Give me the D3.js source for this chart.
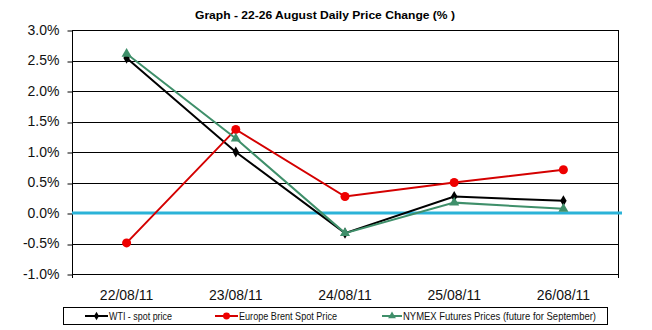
<!DOCTYPE html>
<html>
<head>
<meta charset="utf-8">
<script src="https://cdn.jsdelivr.net/npm/d3@7/dist/d3.min.js"></script>
<style>
  html, body { margin: 0; padding: 0; background: #fff; }
  svg { display: block; font-family: Arial, "Liberation Sans", sans-serif; }
</style>
</head>
<body>
<svg id="chart" width="652" height="330"></svg>
<script>
// Daily price change, 22-26 August 2011 (percent)
const dates = ["22/08/11", "23/08/11", "24/08/11", "25/08/11", "26/08/11"];
const wti = [2.54, 1.00, -0.33, 0.27, 0.20];
const brent = [-0.49, 1.37, 0.27, 0.50, 0.71];
const nymex = [2.61, 1.22, -0.33, 0.17, 0.07];
const yTicks = [-1.0, -0.5, 0.0, 0.5, 1.0, 1.5, 2.0, 2.5, 3.0];
const seriesNames = ["WTI - spot price", "Europe Brent Spot Price", "NYMEX Futures Prices (future for September)"];
const titleText = "Graph  -  22-26  August Daily Price Change (% )";

const svg = d3.select("#chart");
const plotLeft = 72, plotRight = 618, plotTop = 30, plotBottom = 274;

const x = d3.scaleBand().domain(dates).range([plotLeft, plotRight]);
const y = d3.scaleLinear().domain([-1, 3]).range([plotBottom, plotTop]);
const cx = d => x(d) + x.bandwidth() / 2;
const crisp = v => Math.round(y(v)) + 0.5;

// Title
svg.append("text")
  .attr("x", 325).attr("y", 19)
  .attr("text-anchor", "middle")
  .attr("font-size", 11).attr("font-weight", "bold")
  .attr("textLength", 260).attr("lengthAdjust", "spacingAndGlyphs")
  .text(titleText);

// Horizontal gridlines
svg.append("g").selectAll("line")
  .data(yTicks.filter(v => v !== 0))
  .join("line")
  .attr("x1", plotLeft).attr("x2", plotRight)
  .attr("y1", d => crisp(d)).attr("y2", d => crisp(d))
  .attr("stroke", "#000").attr("stroke-width", 1);

// Right border of the plot area
svg.append("line")
  .attr("x1", plotRight + 0.5).attr("x2", plotRight + 0.5)
  .attr("y1", plotTop).attr("y2", plotBottom + 4)
  .attr("stroke", "#000");

// Y axis
const yAxis = d3.axisLeft(y)
  .tickValues(yTicks)
  .tickSize(5)
  .tickPadding(8)
  .tickFormat(d => d.toFixed(1) + "%");
const gy = svg.append("g")
  .attr("transform", `translate(${plotLeft + 0.5},0)`)
  .call(yAxis);
gy.select(".domain").attr("stroke", "#000").attr("d", `M0,${plotTop}V${plotBottom + 4}`);
gy.selectAll(".tick line").attr("stroke", "#000")
  .attr("transform", d => `translate(0,${crisp(d) - y(d)})`);
gy.selectAll(".tick text")
  .attr("font-size", 14).attr("fill", "#111")
  .attr("font-family", "Arial, 'Liberation Sans', sans-serif");

// Zero line
svg.append("line")
  .attr("x1", plotLeft).attr("x2", plotRight + 4)
  .attr("y1", y(0)).attr("y2", y(0))
  .attr("stroke", "#2bb3d8").attr("stroke-width", 3);

// X category labels
const xAxis = d3.axisBottom(x).tickSize(0).tickPadding(0);
const gx = svg.append("g")
  .attr("transform", `translate(0,${plotBottom})`)
  .call(xAxis);
gx.select(".domain").remove();
gx.selectAll(".tick text")
  .attr("font-size", 14).attr("fill", "#111")
  .attr("dy", null).attr("y", 26)
  .attr("font-family", "Arial, 'Liberation Sans', sans-serif");

// Series
const series = [
  { name: seriesNames[0], values: wti, line: "#000000", fill: "#000000", marker: d3.symbolDiamond, size: 36 },
  { name: seriesNames[1], values: brent, line: "#d40000", fill: "#ee0000", marker: d3.symbolCircle, size: 64 },
  { name: seriesNames[2], values: nymex, line: "#3f8f6a", fill: "#3f8f6a", marker: d3.symbolTriangle, size: 44 }
];

const lineGen = d3.line().x((v, i) => cx(dates[i])).y(v => y(v));

series.forEach(s => {
  const g = svg.append("g");
  g.append("path")
    .attr("d", lineGen(s.values))
    .attr("fill", "none").attr("stroke", s.line).attr("stroke-width", 2);
  g.selectAll("path.mk")
    .data(s.values)
    .join("path")
    .attr("class", "mk")
    .attr("transform", (v, i) => `translate(${cx(dates[i])},${y(v)})`)
    .attr("d", d3.symbol().type(s.marker).size(s.size))
    .attr("fill", s.fill);
});

// Legend
const legend = svg.append("g");
legend.append("rect")
  .attr("x", 63.5).attr("y", 307.5).attr("width", 544).attr("height", 17)
  .attr("fill", "#fff").attr("stroke", "#000");
const legendItems = [
  { x0: 85, x1: 108, tw: 63 },
  { x0: 215, x1: 238, tw: 98 },
  { x0: 382, x1: 402, tw: 193 }
];
legendItems.forEach((it, i) => {
  const s = series[i];
  legend.append("line")
    .attr("x1", it.x0).attr("x2", it.x1).attr("y1", 316).attr("y2", 316)
    .attr("stroke", s.line).attr("stroke-width", 2);
  legend.append("path")
    .attr("transform", `translate(${(it.x0 + it.x1) / 2},316)`)
    .attr("d", d3.symbol().type(s.marker).size(s.size * 0.6))
    .attr("fill", s.fill);
  legend.append("text")
    .attr("x", it.x1 + 1).attr("y", 320)
    .attr("font-size", 11).attr("fill", "#111")
    .attr("textLength", it.tw).attr("lengthAdjust", "spacingAndGlyphs")
    .text(s.name);
});
</script>
</body>
</html>
